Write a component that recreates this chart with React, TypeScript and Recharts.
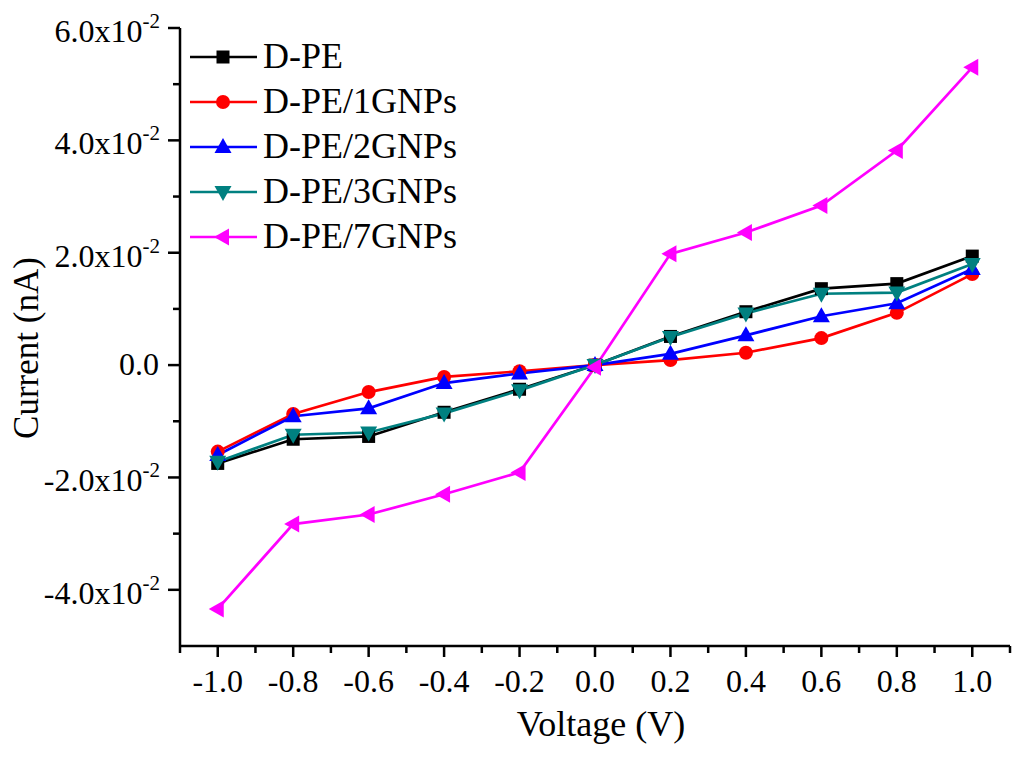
import { Line, LineChart, XAxis, YAxis } from "recharts";

const voltage = [-1.0, -0.8, -0.6, -0.4, -0.2, 0, 0.2, 0.4, 0.6, 0.8, 1.0];

const dpe = [-0.0175, -0.0132, -0.0127, -0.0084, -0.0043, 0, 0.0051, 0.0095, 0.0136, 0.0145, 0.0194];
const dpe1 = [-0.0154, -0.0087, -0.0048, -0.0021, -0.0011, 0, 0.0009, 0.0022, 0.0048, 0.0093, 0.0162];
const dpe2 = [-0.016, -0.0091, -0.0077, -0.0032, -0.0015, 0, 0.002, 0.0053, 0.0087, 0.011, 0.0171];
const dpe3 = [-0.0172, -0.0124, -0.012, -0.0086, -0.0045, 0, 0.005, 0.0092, 0.0127, 0.0129, 0.018];
const dpe7 = [-0.0434, -0.0283, -0.0266, -0.023, -0.0191, -0.0004, 0.0198, 0.0236, 0.0284, 0.0382, 0.053];

const xTicks = [-1.1, -1.0, -0.9, -0.8, -0.7, -0.6, -0.5, -0.4, -0.3, -0.2, -0.1, 0, 0.1, 0.2, 0.3, 0.4, 0.5, 0.6, 0.7, 0.8, 0.9, 1.0, 1.1];
const yTicks = [-0.05, -0.04, -0.03, -0.02, -0.01, 0, 0.01, 0.02, 0.03, 0.04, 0.05, 0.06];

const series = [
  { key: "dpe", name: "D-PE", color: "#000000", shape: "square", values: dpe },
  { key: "dpe1", name: "D-PE/1GNPs", color: "#ff0000", shape: "circle", values: dpe1 },
  { key: "dpe2", name: "D-PE/2GNPs", color: "#0000ff", shape: "up", values: dpe2 },
  { key: "dpe3", name: "D-PE/3GNPs", color: "#008080", shape: "down", values: dpe3 },
  { key: "dpe7", name: "D-PE/7GNPs", color: "#ff00ff", shape: "left", values: dpe7 },
];

const data = voltage.map((v, i) => {
  const row: Record<string, number> = { v };
  series.forEach((s) => {
    row[s.key] = s.values[i];
  });
  return row;
});

const FONT = '"Liberation Serif", "Times New Roman", serif';
const AXIS = { stroke: "#000", strokeWidth: 2.5 };

function marker(shape: string, cx: number, cy: number, color: string, key?: any) {
  if (shape === "square") {
    return <rect key={key} x={cx - 6.5} y={cy - 6.5} width={13} height={13} fill={color} />;
  }
  if (shape === "circle") {
    return <circle key={key} cx={cx} cy={cy} r={7} fill={color} />;
  }
  let pts = "";
  if (shape === "up") pts = `${cx},${cy - 9} ${cx - 8.5},${cy + 6} ${cx + 8.5},${cy + 6}`;
  if (shape === "down") pts = `${cx},${cy + 9} ${cx - 8.5},${cy - 6} ${cx + 8.5},${cy - 6}`;
  if (shape === "left") pts = `${cx - 9},${cy} ${cx + 6},${cy - 8.5} ${cx + 6},${cy + 8.5}`;
  return <polygon key={key} points={pts} fill={color} />;
}

function XTick(props: any) {
  const { x, y, payload } = props;
  const tenth = Math.round(payload.value * 10);
  const major = tenth % 2 === 0;
  return (
    <g>
      <line x1={x} y1={y} x2={x} y2={y + (major ? 11 : 7)} stroke="#000" strokeWidth={2.5} />
      {major && Math.abs(tenth) <= 10 && (
        <text x={x} y={y + 46} textAnchor="middle" fontFamily={FONT} fontSize={32} fill="#000">
          {payload.value.toFixed(1)}
        </text>
      )}
    </g>
  );
}

function YTick(props: any) {
  const { x, y, payload } = props;
  const hundredth = Math.round(payload.value * 100);
  const major = hundredth % 2 === 0;
  if (hundredth === -5) return <g />;
  return (
    <g>
      <line x1={x} y1={y} x2={x - (major ? 12 : 7)} y2={y} stroke="#000" strokeWidth={2.5} />
      {major &&
        (hundredth === 0 ? (
          <text x={x - 21} y={y + 10} textAnchor="end" fontFamily={FONT} fontSize={32} fill="#000">
            0.0
          </text>
        ) : (
          <text x={x - 20} y={y + 14} textAnchor="end" fontFamily={FONT} fontSize={32} fill="#000">
            {hundredth.toFixed(1)}x10
            <tspan dy={-14} fontSize={21}>
              -2
            </tspan>
          </text>
        ))}
    </g>
  );
}

function LegendBox() {
  return (
    <div style={{ position: "absolute", left: 190, top: 34, fontFamily: FONT }}>
      {series.map((s) => (
        <div key={s.key} style={{ display: "flex", alignItems: "center", height: 45 }}>
          <svg width={73} height={24} style={{ display: "block" }}>
            <line x1={0} y1={12} x2={67} y2={12} stroke={s.color} strokeWidth={2.5} />
            {marker(s.shape, 33, 12, s.color)}
          </svg>
          <span style={{ fontSize: 36, lineHeight: "45px", color: "#000", whiteSpace: "nowrap" }}>
            {s.name}
          </span>
        </div>
      ))}
    </div>
  );
}

export default function App() {
  return (
    <div style={{ position: "fixed", left: 0, top: 0, width: 1024, height: 761, background: "#fff" }}>
      <LineChart
        width={1024}
        height={761}
        data={data}
        margin={{ top: 28, right: 14, left: 0, bottom: 0 }}
      >
        <XAxis
          dataKey="v"
          type="number"
          domain={[-1.1, 1.1]}
          ticks={xTicks}
          interval={0}
          height={115}
          tickSize={0}
          tickMargin={0}
          axisLine={AXIS}
          tickLine={false}
          tick={<XTick />}
          allowDataOverflow
          label={{
            content: () => (
              <text x={601} y={736} textAnchor="middle" fontFamily={FONT} fontSize={36} fill="#000">
                Voltage (V)
              </text>
            ),
          }}
        />
        <XAxis
          xAxisId="top"
          orientation="top"
          dataKey="v"
          type="number"
          domain={[-1.1, 1.1]}
          height={0}
          axisLine={AXIS}
          tick={false}
          tickLine={false}
          allowDataOverflow
        />
        <YAxis
          type="number"
          domain={[-0.05, 0.06]}
          ticks={yTicks}
          interval={0}
          width={180}
          tickSize={0}
          tickMargin={0}
          axisLine={AXIS}
          tickLine={false}
          tick={<YTick />}
          allowDataOverflow
          label={{
            content: () => (
              <text
                x={38}
                y={348}
                transform="rotate(-90 38 348)"
                textAnchor="middle"
                fontFamily={FONT}
                fontSize={35}
                fill="#000"
              >
                Current (nA)
              </text>
            ),
          }}
        />
        <YAxis
          yAxisId="right"
          orientation="right"
          type="number"
          domain={[-0.05, 0.06]}
          width={0}
          axisLine={AXIS}
          tick={false}
          tickLine={false}
          allowDataOverflow
        />
        {series.map((s) => (
          <Line
            key={s.key}
            dataKey={s.key}
            name={s.name}
            type="linear"
            stroke={s.color}
            strokeWidth={2.7}
            isAnimationActive={false}
            activeDot={false}
            dot={(p: any) => marker(s.shape, p.cx, p.cy, s.color, `${s.key}-${p.index}`)}
          />
        ))}
      </LineChart>
      <LegendBox />
    </div>
  );
}
